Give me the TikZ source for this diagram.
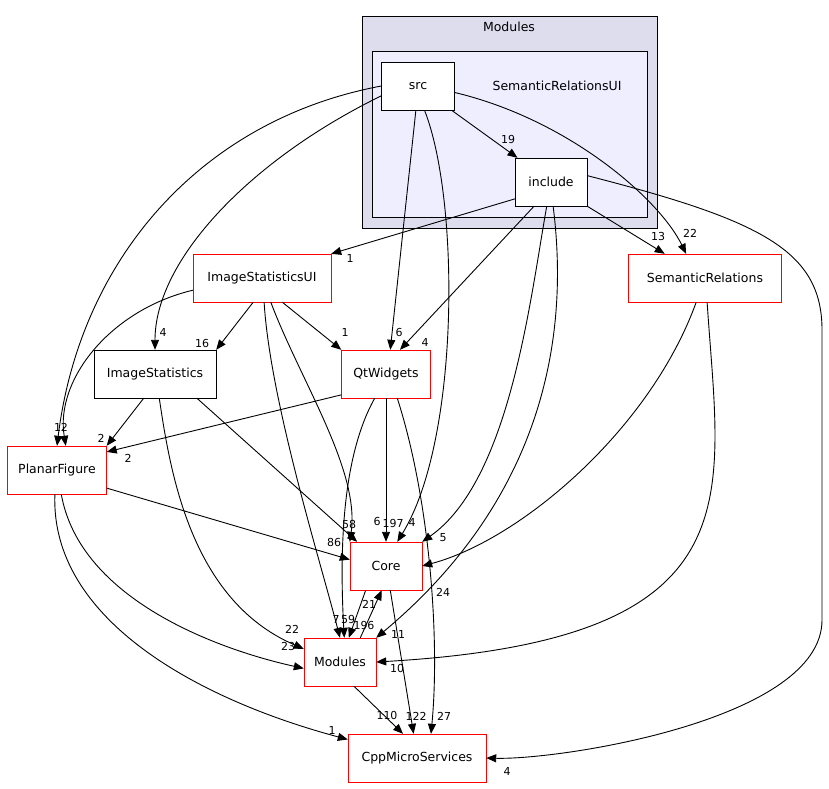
\documentclass[tikz,border=0pt]{standalone}
\usepackage{fontspec}
\setmainfont{DejaVu Sans}
\usetikzlibrary{arrows.meta}
\begin{document}
\begin{tikzpicture}[x=1pt,y=-1pt,
 box/.style={draw=red,fill=white,minimum height=48pt,inner sep=0pt,font=\fontsize{12.5}{14}\selectfont},
 bbox/.style={box,draw=black},
 lab/.style={font=\fontsize{11}{12}\selectfont,inner sep=0pt},
 e/.style={-{Triangle[length=10pt,width=8pt]},line width=0.9pt}]
\useasboundingbox (0,0) rectangle (829,788);
\fill[white] (0,0) rectangle (829,788);
\draw[fill={rgb,255:red,221;green,221;blue,238},line width=0.9pt] (362,16) rectangle (657,228);
\node[lab,font=\fontsize{12.5}{14}\selectfont] (cl1) at (509,27) {Modules};
\draw[fill={rgb,255:red,238;green,238;blue,255},line width=0.9pt] (372,51) rectangle (647,217);
\node[lab,font=\fontsize{12.5}{14}\selectfont] (cl2) at (557,86) {SemanticRelationsUI};
\node[bbox,minimum width=73pt] (src) at (418,86) {src};
\node[bbox,minimum width=72pt] (inc) at (551,182) {include};
\node[box,minimum width=138pt] (isui) at (262,278) {ImageStatisticsUI};
\node[box,minimum width=153pt] (sr) at (705,278) {SemanticRelations};
\node[bbox,minimum width=122pt] (is) at (155,374) {ImageStatistics};
\node[box,minimum width=89pt] (qt) at (386,374) {QtWidgets};
\node[box,minimum width=99pt] (pf) at (57,470) {PlanarFigure};
\node[box,minimum width=72pt] (core) at (386,566) {Core};
\node[box,minimum width=72pt] (mod) at (340,662) {Modules};
\node[box,minimum width=138pt] (cpp) at (417,758) {CppMicroServices};
% src
\draw[e] (src) -- (inc); \node[lab] (l1) at (508,139) {19};
\draw[e] (src.-10) .. controls (570,120) and (660,200) .. (sr.128); \node[lab] (l2) at (690,233) {22};
\draw[e] (src.west) .. controls (200,120) and (80,260) .. (pf.north); \node[lab] (l3) at (61,427) {12};
\draw[e] (src.-165) .. controls (250,160) and (155,260) .. (is.north); \node[lab] (l4) at (163,332) {4};
\draw[e] (src.-95) -- (qt.80); \node[lab] (l5) at (399,332) {6};
\draw[e] (src.-75) .. controls (460,200) and (460,440) .. (core.65); \node[lab] (l6) at (412,522) {4};
% include
\draw[e] (inc.-155) -- (isui.north east); \node[lab] (l7) at (350,258) {1};
\draw[e] (inc.-125) -- (qt.60); \node[lab] (l8) at (425,342) {4};
\draw[e] (inc.south east) -- (sr.149); \node[lab] (l9) at (658,236) {13};
\draw[e] (inc.-100) .. controls (530,300) and (510,480) .. (core.north east); \node[lab] (l10) at (443,538) {5};
\draw[e] (inc.-85) .. controls (565,300) and (565,480) .. (mod.north east); \node[lab] (l11) at (398,634) {11};
\draw[e] (inc.10) .. controls (760,220) and (822,250) .. (822,330) -- (822,620) .. controls (822,720) and (560,760) .. (cpp.east); \node[lab] (l12) at (507,771) {4};
% ImageStatisticsUI
\draw[e] (isui.-110) -- (is.north east); \node[lab] (l13) at (202,343) {16};
\draw[e] (isui.-50) -- (qt.north west); \node[lab] (l14) at (345,332) {1};
\draw[e] (isui.-170) .. controls (110,310) and (55,380) .. (pf.70);
\draw[e] (isui.-70) .. controls (300,380) and (360,470) .. (core.north west); \node[lab] (l15) at (377,521) {6};
\draw[e] (isui.-85) .. controls (270,400) and (320,560) .. (mod.north); \node[lab] (l16) at (336,619) {7};
% ImageStatistics
\draw[e] (is.-115) -- (pf.north east); \node[lab] (l17) at (101,438) {2};
\draw[e] (is.-30) -- (core.140); \node[lab] (l18) at (349,524) {58};
\draw[e] (is.-80) .. controls (170,470) and (190,600) .. (mod.160); \node[lab] (l19) at (292,629) {22};
% QtWidgets
\draw[e] (qt.-155) -- (pf.20); \node[lab] (l20) at (128,458) {2};
\draw[e] (qt) -- (core); \node[lab] (l21) at (393,523) {197};
\draw[e] (qt.-115) .. controls (340,460) and (340,560) .. (mod.80); \node[lab] (l22) at (348,619) {59};
\draw[e] (qt.-65) .. controls (430,500) and (440,640) .. (cpp.60); \node[lab] (l23) at (444,716) {27};
% SemanticRelations
\draw[e] (sr.-110) .. controls (650,430) and (520,540) .. (core.east); \node[lab] (l24) at (443,592) {24};
\draw[e] (sr.-85) .. controls (720,500) and (760,640) .. (mod.east); \node[lab] (l25) at (397,668) {10};
% PlanarFigure
\draw[e] (pf.-20) -- (core.170); \node[lab] (l26) at (334,542) {86};
\draw[e] (pf.-80) .. controls (80,600) and (220,650) .. (mod.-170); \node[lab] (l27) at (288,646) {23};
\draw[e] (pf.-95) .. controls (50,620) and (200,700) .. (cpp.165); \node[lab] (l28) at (332,730) {1};
% Core/Modules
\draw[e] (core.-130) -- (mod.70); \node[lab] (l29) at (364,625) {196};
\draw[e] (mod.50) -- (core.-100); \node[lab] (l30) at (369,604) {21};
\draw[e] (core.-80) -- (cpp.98); \node[lab] (l31) at (416,716) {122};
\draw[e] (mod.-60) -- (cpp.120); \node[lab] (l32) at (387,715) {110};
\end{tikzpicture}
\end{document}
